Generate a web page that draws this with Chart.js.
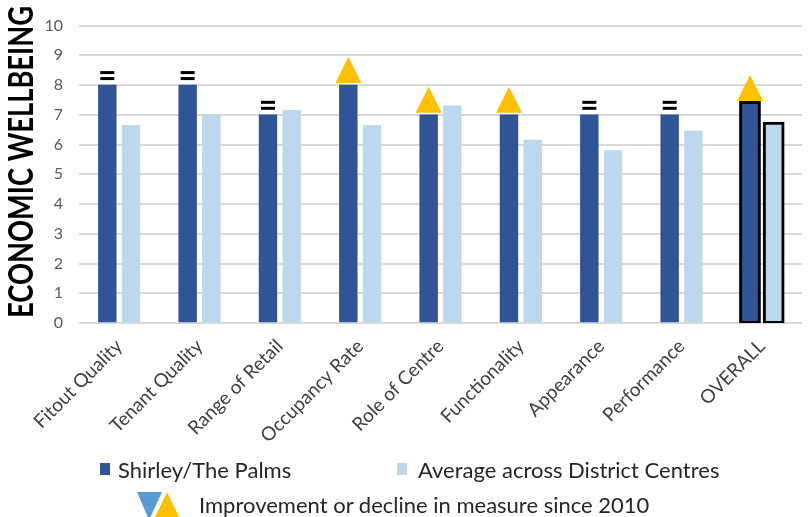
<!DOCTYPE html>
<html>
<head>
<meta charset="utf-8">
<script src="https://cdn.jsdelivr.net/npm/chart.js@4.4.1/dist/chart.umd.min.js"></script>
<style>
  body { margin: 0; background: #fff; }
  #wrap { position: relative; width: 811px; height: 517px; overflow: hidden; font-family: Lato, sans-serif; color: #262626; }
  #wrap canvas { position: absolute; left: 0; top: 0; }
  .key { position: absolute; font-size: 22px; line-height: 26px; white-space: nowrap; }
  .swatch { position: absolute; width: 10px; height: 12px; }
</style>
</head>
<body>
<div id="wrap">
  <canvas id="wellbeingChart" width="811" height="517"></canvas>
  <div class="swatch" style="left:100px; top:463px; background:#2F5597;"></div>
  <div class="key" style="left:118px; top:457px;">Shirley/The Palms</div>
  <div class="swatch" style="left:397px; top:463px; background:#BDD7EE;"></div>
  <div class="key" style="left:418px; top:457px;">Average across District Centres</div>
  <svg style="position:absolute; left:130px; top:488px;" width="60" height="40">
    <polygon points="7,4 32,4 19,32" fill="#5B9BD5"/>
    <polygon points="37,4 24,31 50,31" fill="#FFC000"/>
  </svg>
  <div class="key" style="left:199px; top:492px;">Improvement or decline in measure since 2010</div>
</div>
<script>
const yTitle = 'ECONOMIC WELLBEING';
const categories = ['Fitout Quality', 'Tenant Quality', 'Range of Retail', 'Occupancy Rate', 'Role of Centre', 'Functionality', 'Appearance', 'Performance', 'OVERALL'];
const shirleyScores = [8, 8, 7, 8, 7, 7, 7, 7, 7.4];
const districtAverage = [6.65, 7.0, 7.15, 6.65, 7.3, 6.15, 5.8, 6.45, 6.7];
// 'up' = improved since 2010, 'same' = unchanged
const changeSince2010 = ['same', 'same', 'same', 'up', 'up', 'up', 'same', 'same', 'up'];
const yTicks = [0, 1, 2, 3, 4, 5, 6, 7, 8, 9, 10];

const DARK = '#2F5597';
const LIGHT = '#BDD7EE';
const GOLD = '#FFC000';
const overallIdx = categories.indexOf('OVERALL');

// rotated, squeezed axis title on the left
const axisTitle = {
    id: 'axisTitle',
    afterDraw(chart) {
        const ctx = chart.ctx;
        ctx.save();
        ctx.font = 'bold 34px Lato';
        const w = ctx.measureText(yTitle).width;
        ctx.translate(33, 162);
        ctx.rotate(-Math.PI / 2);
        ctx.scale(312 / w, 1);
        ctx.textAlign = 'center';
        ctx.textBaseline = 'alphabetic';
        ctx.fillStyle = '#000';
        ctx.fillText(yTitle, 0, 0);
        ctx.restore();
    }
};

// "=" or gold triangle above each Shirley bar
const changeMarks = {
    id: 'changeMarks',
    afterDatasetsDraw(chart) {
        const ctx = chart.ctx;
        const bars = chart.getDatasetMeta(0).data;
        ctx.save();
        bars.forEach((bar, i) => {
            const x = bar.x, top = bar.y;
            if (changeSince2010[i] === 'up') {
                ctx.fillStyle = GOLD;
                ctx.beginPath();
                ctx.moveTo(x - 13, top - 2);
                ctx.lineTo(x + 13, top - 2);
                ctx.lineTo(x, top - 28);
                ctx.closePath();
                ctx.fill();
            } else if (changeSince2010[i] === 'same') {
                ctx.fillStyle = '#000';
                ctx.fillRect(x - 7, top - 14, 14, 3);
                ctx.fillRect(x - 7, top - 8, 14, 3);
            }
        });
        ctx.restore();
    }
};

const outlineOverall = {
    borderColor: '#000',
    borderWidth: ctx => ctx.dataIndex === overallIdx ? 3 : 0,
    inflateAmount: ctx => ctx.dataIndex === overallIdx ? 2 : 0.33,
    borderSkipped: false
};

new Chart(document.getElementById('wellbeingChart'), {
    type: 'bar',
    data: {
        labels: categories,
        datasets: [
            { label: 'Shirley/The Palms', data: shirleyScores, backgroundColor: DARK, ...outlineOverall },
            { label: 'Average across District Centres', data: districtAverage, backgroundColor: LIGHT, ...outlineOverall }
        ]
    },
    options: {
        responsive: false,
        devicePixelRatio: 1,
        animation: false,
        categoryPercentage: 0.59,
        barPercentage: 0.75,
        layout: { padding: { top: 15, right: 9, left: 0, bottom: 0 } },
        plugins: { legend: { display: false }, tooltip: { enabled: false } },
        scales: {
            x: {
                grid: { display: false, drawTicks: false },
                border: { display: false },
                ticks: {
                    minRotation: 45, maxRotation: 45, padding: 12,
                    color: '#404040', font: { family: 'Lato', size: 19 }
                },
                afterFit: s => { s.height = 194; }
            },
            y: {
                min: 0, max: 10,
                afterBuildTicks: s => { s.ticks = yTicks.map(v => ({ value: v })); },
                grid: { color: '#d9d9d9', lineWidth: 2, drawTicks: false },
                border: { display: false },
                ticks: { padding: 16, color: '#595959', font: { family: 'Lato', size: 16 } },
                afterFit: s => { s.width = 79; }
            }
        }
    },
    plugins: [axisTitle, changeMarks]
});
</script>
</body>
</html>
